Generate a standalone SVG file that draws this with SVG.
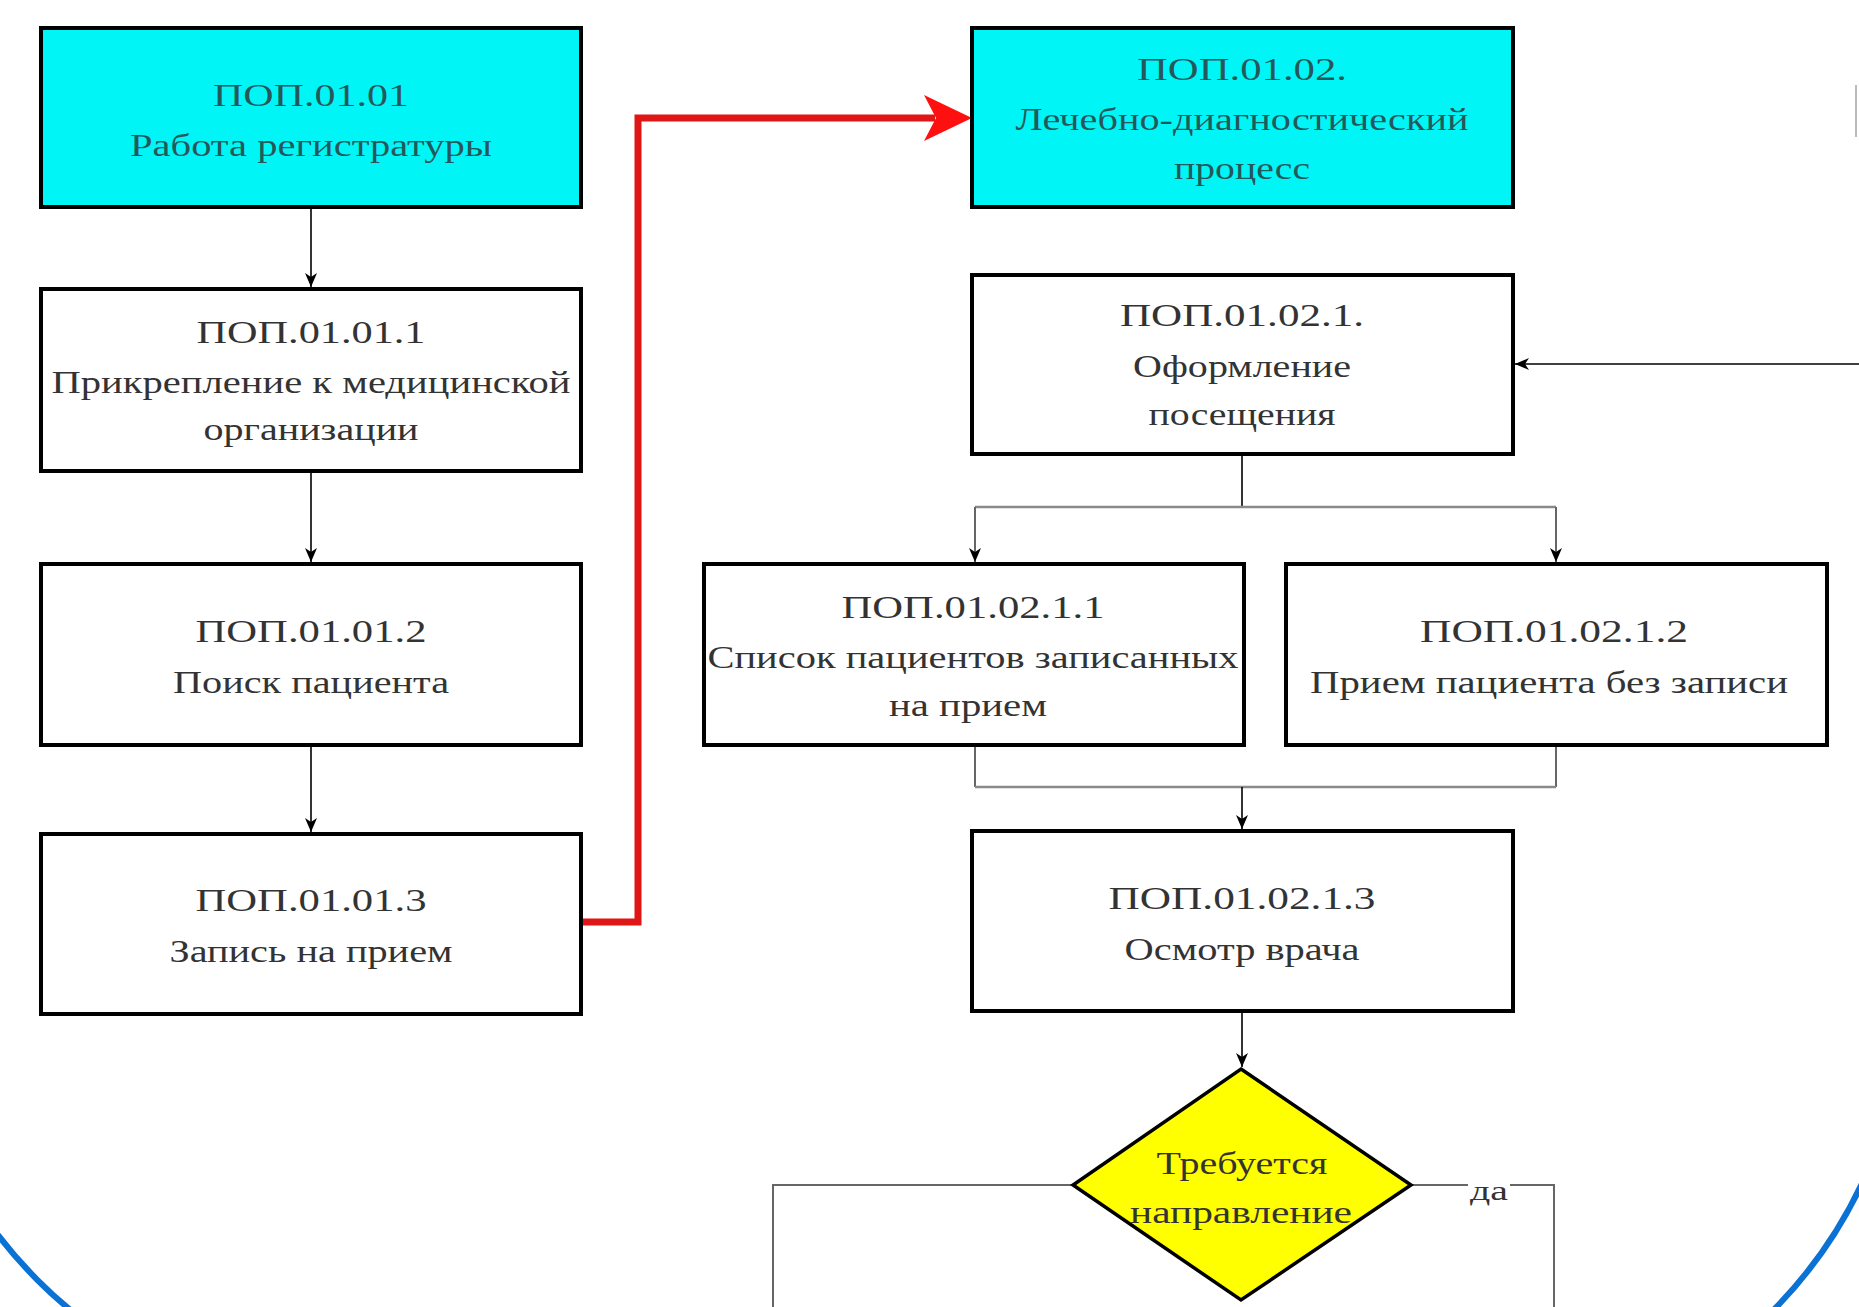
<svg xmlns="http://www.w3.org/2000/svg" width="1859" height="1307" viewBox="0 0 1859 1307">
<defs>
<style>
.box{stroke:#000;stroke-width:4;fill:#fff}
.cyan{fill:#00f6f6}
.t{font-family:"Liberation Serif","Times New Roman",serif;font-size:32px;fill:#333;text-anchor:middle;dominant-baseline:central}
.tc{fill:#24585a}
.blk{stroke:#000;stroke-width:1.6;fill:none}
.gry{stroke:#8a8a8a;stroke-width:2.6;fill:none}
.gry2{stroke:#666;stroke-width:2;fill:none}
</style>
<marker id="ah" viewBox="0 0 14 12" refX="14" refY="6" markerWidth="14" markerHeight="12" markerUnits="userSpaceOnUse" orient="auto">
<path d="M0,0 L14,6 L0,12 L4,6 z" fill="#000"/>
</marker>
</defs>
<rect width="1859" height="1307" fill="#fff"/>

<g id="frame" fill="none" stroke="#0a72d4" stroke-width="6">
<path d="M -97 700 L -97 955 A 460 460 0 0 0 363 1415"/>
<path d="M 1906 700 L 1906 987 A 460 460 0 0 1 1446 1447"/>
</g>

<g id="connectors">
<path class="blk" d="M311,207 V287" marker-end="url(#ah)"/>
<path class="blk" d="M311,471 V562" marker-end="url(#ah)"/>
<path class="blk" d="M311,745 V832" marker-end="url(#ah)"/>
<path class="blk" d="M1242,454 V507"/>
<path class="gry" d="M975,507 H1556"/>
<path class="gry2" d="M975,507 V562" marker-end="url(#ah)"/>
<path class="gry2" d="M1556,507 V562" marker-end="url(#ah)"/>
<path class="gry2" d="M975,745 V787"/>
<path class="gry2" d="M1556,745 V787"/>
<path class="gry" d="M975,787 H1556"/>
<path class="blk" d="M1242,787 V829" marker-end="url(#ah)"/>
<path class="blk" d="M1242,1011 V1067" marker-end="url(#ah)"/>
<path class="blk" d="M1859,364 H1515" marker-end="url(#ah)"/>
<path class="gry2" d="M1073,1185 H773 V1307"/>
<path class="gry2" d="M1411,1185 H1468 M1510,1185 H1554 V1307"/>
<text class="t" x="1489" y="1190" style="font-size:28px" textLength="38" lengthAdjust="spacingAndGlyphs">да</text>
<path d="M581,922 H638 V118 H935" fill="none" stroke="#e01515" stroke-width="7"/>
<polygon points="972,118 924,95 936,118 924,141" fill="#ff1010"/>
<line x1="1856" y1="85" x2="1856" y2="137" stroke="#bbb" stroke-width="2"/>
</g>

<g id="n1">
<rect class="box cyan" x="41" y="28" width="540" height="179"/>
<text class="t tc" x="311" y="95" textLength="196" lengthAdjust="spacingAndGlyphs">ПОП.01.01</text>
<text class="t tc" x="311" y="145" textLength="362" lengthAdjust="spacingAndGlyphs">Работа регистратуры</text>
</g>
<g id="n11">
<rect class="box" x="41" y="289" width="540" height="182"/>
<text class="t" x="311" y="332" textLength="229" lengthAdjust="spacingAndGlyphs">ПОП.01.01.1</text>
<text class="t" x="311" y="382" textLength="519" lengthAdjust="spacingAndGlyphs">Прикрепление к медицинской</text>
<text class="t" x="311" y="429" textLength="215" lengthAdjust="spacingAndGlyphs">организации</text>
</g>
<g id="n12">
<rect class="box" x="41" y="564" width="540" height="181"/>
<text class="t" x="311" y="631" textLength="231" lengthAdjust="spacingAndGlyphs">ПОП.01.01.2</text>
<text class="t" x="311" y="682" textLength="276" lengthAdjust="spacingAndGlyphs">Поиск пациента</text>
</g>
<g id="n13">
<rect class="box" x="41" y="834" width="540" height="180"/>
<text class="t" x="311" y="900" textLength="231" lengthAdjust="spacingAndGlyphs">ПОП.01.01.3</text>
<text class="t" x="311" y="951" textLength="283" lengthAdjust="spacingAndGlyphs">Запись на прием</text>
</g>
<g id="n2">
<rect class="box cyan" x="972" y="28" width="541" height="179"/>
<text class="t tc" x="1242" y="69" textLength="210" lengthAdjust="spacingAndGlyphs">ПОП.01.02.</text>
<text class="t tc" x="1242" y="119" textLength="453" lengthAdjust="spacingAndGlyphs">Лечебно-диагностический</text>
<text class="t tc" x="1242" y="168" textLength="136" lengthAdjust="spacingAndGlyphs">процесс</text>
</g>
<g id="n21">
<rect class="box" x="972" y="275" width="541" height="179"/>
<text class="t" x="1242" y="315" textLength="244" lengthAdjust="spacingAndGlyphs">ПОП.01.02.1.</text>
<text class="t" x="1242" y="366" textLength="218" lengthAdjust="spacingAndGlyphs">Оформление</text>
<text class="t" x="1242" y="414" textLength="187" lengthAdjust="spacingAndGlyphs">посещения</text>
</g>
<g id="n211">
<rect class="box" x="704" y="564" width="540" height="181"/>
<text class="t" x="973" y="607" textLength="263" lengthAdjust="spacingAndGlyphs">ПОП.01.02.1.1</text>
<text class="t" x="973" y="657" textLength="531" lengthAdjust="spacingAndGlyphs">Список пациентов записанных</text>
<text class="t" x="968" y="705" textLength="158" lengthAdjust="spacingAndGlyphs">на прием</text>
</g>
<g id="n212">
<rect class="box" x="1286" y="564" width="541" height="181"/>
<text class="t" x="1554" y="631" textLength="268" lengthAdjust="spacingAndGlyphs">ПОП.01.02.1.2</text>
<text class="t" x="1549" y="682" textLength="478" lengthAdjust="spacingAndGlyphs">Прием пациента без записи</text>
</g>
<g id="n213">
<rect class="box" x="972" y="831" width="541" height="180"/>
<text class="t" x="1242" y="898" textLength="267" lengthAdjust="spacingAndGlyphs">ПОП.01.02.1.3</text>
<text class="t" x="1242" y="949" textLength="235" lengthAdjust="spacingAndGlyphs">Осмотр врача</text>
</g>
<g id="d1">
<polygon points="1241,1069 1411,1185 1241,1300 1073,1185" fill="#ffff00" stroke="#000" stroke-width="3.5"/>
<text class="t" x="1242" y="1163" textLength="171" lengthAdjust="spacingAndGlyphs">Требуется</text>
<text class="t" x="1241" y="1212" textLength="222" lengthAdjust="spacingAndGlyphs">направление</text>
</g>
</svg>
